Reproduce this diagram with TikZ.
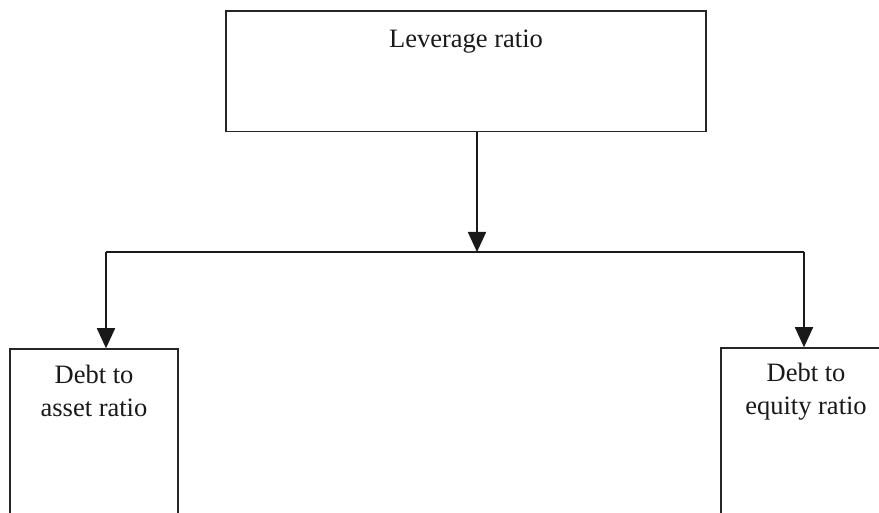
\documentclass[tikz,border=0pt]{standalone}
\usepackage{fontspec}
\setmainfont{Liberation Serif}
\usetikzlibrary{arrows.meta}
\begin{document}
\begin{tikzpicture}[x=1pt,y=-1pt,
  box/.style={draw=black!85, line width=1.5pt, rectangle, inner sep=0pt},
  lbl/.style={font=\fontsize{26.5}{33}\selectfont, align=center, inner sep=0pt, anchor=base, text=black!90},
  arr/.style={draw=black!90, line width=1.7pt, -{Triangle[width=18pt,length=20pt]}},
  conn/.style={draw=black!90, line width=1.7pt}]
\useasboundingbox (0,0) rectangle (879,513);
\clip (0,0) rectangle (879,513);
% boxes
\node[box, minimum width=480pt, minimum height=120.5pt] (lev) at (466,71.3) {};
\node[box, minimum width=168pt, minimum height=200pt] (da) at (94,449) {};
\node[box, minimum width=168pt, minimum height=200pt] (de) at (805,448) {};
% labels
\node[lbl] (levt) at (466,48) {Leverage ratio};
\node[lbl] (dat) at (94,416) {Debt to\\asset ratio};
\node[lbl] (det) at (806,414) {Debt to\\equity ratio};
% junctions
\coordinate (j) at (477,252);
\coordinate (hl) at (106,252);
\coordinate (hr) at (804,252);
% connectors
\draw[arr] (lev.south -| j) -- (j);
\draw[conn] (hl) -- (hr);
\draw[arr] (hl) -- (hl |- da.north);
\draw[arr] (hr) -- (hr |- de.north);
\end{tikzpicture}
\end{document}
